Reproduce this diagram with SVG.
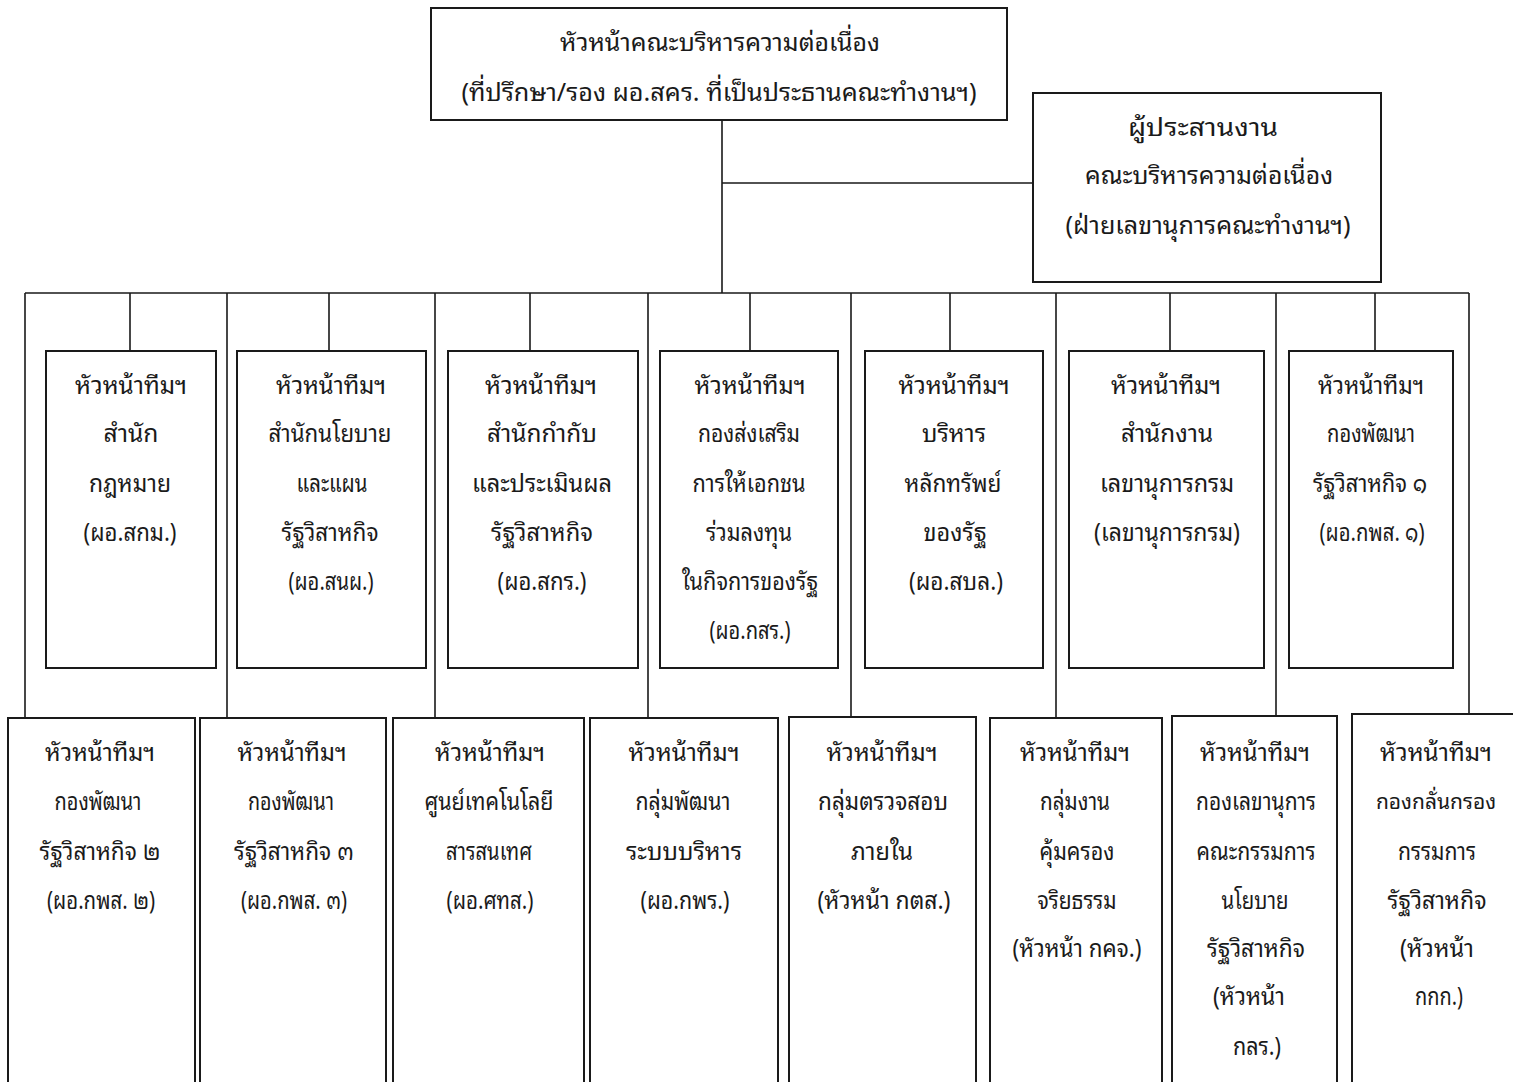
<svg xmlns="http://www.w3.org/2000/svg" width="1513" height="1082" viewBox="0 0 1513 1082">
<style>
.box{fill:#fff;stroke:#1a1a1a;stroke-width:2}
.ln{stroke:#1a1a1a;stroke-width:1.6;fill:none}
text{font-family:"Noto Sans Thai Looped","Noto Sans Thai","Noto Sans","DejaVu Sans",sans-serif;font-size:25px;fill:#1a1a1a;text-anchor:middle}
</style>
<rect width="1513" height="1082" fill="#fff"/>
<g id="connectors">
<path class="ln" d="M722 120V293M722 183H1033M25 293H1469"/>
<path class="ln" d="M130 293V351M329 293V351M530 293V351M750 293V351M950 293V351M1170 293V351M1375 293V351"/>
<path class="ln" d="M25 293V718M227 293V718M435 293V718M648 293V718M851 293V717M1056 293V718M1276 293V716M1469 293V714"/>
</g>
<g id="head"><rect class="box" x="431" y="8" width="576" height="112"/>
<text x="720" y="51" textLength="320" lengthAdjust="spacingAndGlyphs">หัวหน้าคณะบริหารความต่อเนื่อง</text>
<text x="719" y="101" textLength="515" lengthAdjust="spacingAndGlyphs">(ที่ปรึกษา/รอง ผอ.สคร. ที่เป็นประธานคณะทำงานฯ)</text></g>
<g id="coord"><rect class="box" x="1033" y="93" width="348" height="189"/>
<text x="1203" y="136" textLength="150" lengthAdjust="spacingAndGlyphs">ผู้ประสานงาน</text>
<text x="1209" y="184" textLength="248" lengthAdjust="spacingAndGlyphs">คณะบริหารความต่อเนื่อง</text>
<text x="1208" y="234" textLength="285" lengthAdjust="spacingAndGlyphs">(ฝ่ายเลขานุการคณะทำงานฯ)</text></g>
<g id="u1"><rect class="box" x="46" y="351" width="170" height="317"/>
<text x="131" y="394" textLength="112" lengthAdjust="spacingAndGlyphs">หัวหน้าทีมฯ</text>
<text x="131" y="442" textLength="55" lengthAdjust="spacingAndGlyphs">สำนัก</text>
<text x="130" y="492" textLength="82" lengthAdjust="spacingAndGlyphs">กฎหมาย</text>
<text x="130" y="541" textLength="93" lengthAdjust="spacingAndGlyphs">(ผอ.สกม.)</text></g>
<g id="u2"><rect class="box" x="237" y="351" width="189" height="317"/>
<text x="331" y="394" textLength="110" lengthAdjust="spacingAndGlyphs">หัวหน้าทีมฯ</text>
<text x="330" y="442" textLength="123" lengthAdjust="spacingAndGlyphs">สำนักนโยบาย</text>
<text x="332" y="492" textLength="71" lengthAdjust="spacingAndGlyphs">และแผน</text>
<text x="330" y="541" textLength="97" lengthAdjust="spacingAndGlyphs">รัฐวิสาหกิจ</text>
<text x="331" y="590" textLength="85" lengthAdjust="spacingAndGlyphs">(ผอ.สนผ.)</text></g>
<g id="u3"><rect class="box" x="448" y="351" width="190" height="317"/>
<text x="541" y="394" textLength="112" lengthAdjust="spacingAndGlyphs">หัวหน้าทีมฯ</text>
<text x="542" y="442" textLength="110" lengthAdjust="spacingAndGlyphs">สำนักกำกับ</text>
<text x="542" y="492" textLength="140" lengthAdjust="spacingAndGlyphs">และประเมินผล</text>
<text x="542" y="541" textLength="102" lengthAdjust="spacingAndGlyphs">รัฐวิสาหกิจ</text>
<text x="542" y="590" textLength="89" lengthAdjust="spacingAndGlyphs">(ผอ.สกร.)</text></g>
<g id="u4"><rect class="box" x="660" y="351" width="178" height="317"/>
<text x="750" y="394" textLength="111" lengthAdjust="spacingAndGlyphs">หัวหน้าทีมฯ</text>
<text x="749" y="442" textLength="102" lengthAdjust="spacingAndGlyphs">กองส่งเสริม</text>
<text x="749" y="492" textLength="113" lengthAdjust="spacingAndGlyphs">การให้เอกชน</text>
<text x="749" y="541" textLength="86" lengthAdjust="spacingAndGlyphs">ร่วมลงทุน</text>
<text x="750" y="590" textLength="136" lengthAdjust="spacingAndGlyphs">ในกิจการของรัฐ</text>
<text x="750" y="639" textLength="81" lengthAdjust="spacingAndGlyphs">(ผอ.กสร.)</text></g>
<g id="u5"><rect class="box" x="865" y="351" width="178" height="317"/>
<text x="954" y="394" textLength="111" lengthAdjust="spacingAndGlyphs">หัวหน้าทีมฯ</text>
<text x="954" y="442" textLength="64" lengthAdjust="spacingAndGlyphs">บริหาร</text>
<text x="953" y="492" textLength="97" lengthAdjust="spacingAndGlyphs">หลักทรัพย์</text>
<text x="955" y="541" textLength="63" lengthAdjust="spacingAndGlyphs">ของรัฐ</text>
<text x="956" y="590" textLength="94" lengthAdjust="spacingAndGlyphs">(ผอ.สบล.)</text></g>
<g id="u6"><rect class="box" x="1069" y="351" width="195" height="317"/>
<text x="1166" y="394" textLength="110" lengthAdjust="spacingAndGlyphs">หัวหน้าทีมฯ</text>
<text x="1167" y="442" textLength="92" lengthAdjust="spacingAndGlyphs">สำนักงาน</text>
<text x="1167" y="492" textLength="134" lengthAdjust="spacingAndGlyphs">เลขานุการกรม</text>
<text x="1167" y="541" textLength="146" lengthAdjust="spacingAndGlyphs">(เลขานุการกรม)</text></g>
<g id="u7"><rect class="box" x="1289" y="351" width="164" height="317"/>
<text x="1371" y="394" textLength="106" lengthAdjust="spacingAndGlyphs">หัวหน้าทีมฯ</text>
<text x="1371" y="442" textLength="88" lengthAdjust="spacingAndGlyphs">กองพัฒนา</text>
<text x="1370" y="492" textLength="114" lengthAdjust="spacingAndGlyphs">รัฐวิสาหกิจ ๑</text>
<text x="1372" y="541" textLength="105" lengthAdjust="spacingAndGlyphs">(ผอ.กพส. ๑)</text></g>
<g id="b1"><rect class="box" x="8" y="718" width="187" height="380"/>
<text x="100" y="761" textLength="110" lengthAdjust="spacingAndGlyphs">หัวหน้าทีมฯ</text>
<text x="98" y="810" textLength="87" lengthAdjust="spacingAndGlyphs">กองพัฒนา</text>
<text x="100" y="860" textLength="121" lengthAdjust="spacingAndGlyphs">รัฐวิสาหกิจ ๒</text>
<text x="101" y="909" textLength="108" lengthAdjust="spacingAndGlyphs">(ผอ.กพส. ๒)</text></g>
<g id="b2"><rect class="box" x="200" y="718" width="186" height="380"/>
<text x="292" y="761" textLength="109" lengthAdjust="spacingAndGlyphs">หัวหน้าทีมฯ</text>
<text x="291" y="810" textLength="86" lengthAdjust="spacingAndGlyphs">กองพัฒนา</text>
<text x="294" y="860" textLength="120" lengthAdjust="spacingAndGlyphs">รัฐวิสาหกิจ ๓</text>
<text x="294" y="909" textLength="106" lengthAdjust="spacingAndGlyphs">(ผอ.กพส. ๓)</text></g>
<g id="b3"><rect class="box" x="393" y="718" width="191" height="380"/>
<text x="490" y="761" textLength="110" lengthAdjust="spacingAndGlyphs">หัวหน้าทีมฯ</text>
<text x="489" y="810" textLength="129" lengthAdjust="spacingAndGlyphs">ศูนย์เทคโนโลยี</text>
<text x="489" y="860" textLength="86" lengthAdjust="spacingAndGlyphs">สารสนเทศ</text>
<text x="490" y="909" textLength="87" lengthAdjust="spacingAndGlyphs">(ผอ.ศทส.)</text></g>
<g id="b4"><rect class="box" x="590" y="718" width="188" height="380"/>
<text x="684" y="761" textLength="111" lengthAdjust="spacingAndGlyphs">หัวหน้าทีมฯ</text>
<text x="683" y="810" textLength="95" lengthAdjust="spacingAndGlyphs">กลุ่มพัฒนา</text>
<text x="684" y="860" textLength="116" lengthAdjust="spacingAndGlyphs">ระบบบริหาร</text>
<text x="685" y="909" textLength="89" lengthAdjust="spacingAndGlyphs">(ผอ.กพร.)</text></g>
<g id="b5"><rect class="box" x="789" y="717" width="187" height="380"/>
<text x="882" y="761" textLength="111" lengthAdjust="spacingAndGlyphs">หัวหน้าทีมฯ</text>
<text x="883" y="810" textLength="130" lengthAdjust="spacingAndGlyphs">กลุ่มตรวจสอบ</text>
<text x="882" y="860" textLength="62" lengthAdjust="spacingAndGlyphs">ภายใน</text>
<text x="884" y="909" textLength="133" lengthAdjust="spacingAndGlyphs">(หัวหน้า กตส.)</text></g>
<g id="b6"><rect class="box" x="990" y="718" width="172" height="380"/>
<text x="1075" y="761" textLength="110" lengthAdjust="spacingAndGlyphs">หัวหน้าทีมฯ</text>
<text x="1075" y="810" textLength="70" lengthAdjust="spacingAndGlyphs">กลุ่มงาน</text>
<text x="1077" y="860" textLength="75" lengthAdjust="spacingAndGlyphs">คุ้มครอง</text>
<text x="1077" y="909" textLength="79" lengthAdjust="spacingAndGlyphs">จริยธรรม</text>
<text x="1077" y="957" textLength="129" lengthAdjust="spacingAndGlyphs">(หัวหน้า กคจ.)</text></g>
<g id="b7"><rect class="box" x="1172" y="716" width="165" height="380"/>
<text x="1255" y="761" textLength="110" lengthAdjust="spacingAndGlyphs">หัวหน้าทีมฯ</text>
<text x="1256" y="810" textLength="120" lengthAdjust="spacingAndGlyphs">กองเลขานุการ</text>
<text x="1256" y="860" textLength="119" lengthAdjust="spacingAndGlyphs">คณะกรรมการ</text>
<text x="1255" y="909" textLength="67" lengthAdjust="spacingAndGlyphs">นโยบาย</text>
<text x="1256" y="957" textLength="98" lengthAdjust="spacingAndGlyphs">รัฐวิสาหกิจ</text>
<text x="1249" y="1005" textLength="72" lengthAdjust="spacingAndGlyphs">(หัวหน้า</text>
<text x="1257" y="1055" textLength="48" lengthAdjust="spacingAndGlyphs">กลร.)</text></g>
<g id="b8"><rect class="box" x="1352" y="714" width="170" height="380"/>
<text x="1436" y="761" textLength="112" lengthAdjust="spacingAndGlyphs">หัวหน้าทีมฯ</text>
<text x="1436" y="809" style="font-size:21px">กองกลั่นกรอง</text>
<text x="1437" y="860" textLength="78" lengthAdjust="spacingAndGlyphs">กรรมการ</text>
<text x="1437" y="909" textLength="99" lengthAdjust="spacingAndGlyphs">รัฐวิสาหกิจ</text>
<text x="1437" y="957" textLength="74" lengthAdjust="spacingAndGlyphs">(หัวหน้า</text>
<text x="1439" y="1005" textLength="48" lengthAdjust="spacingAndGlyphs">กกก.)</text></g>
</svg>
